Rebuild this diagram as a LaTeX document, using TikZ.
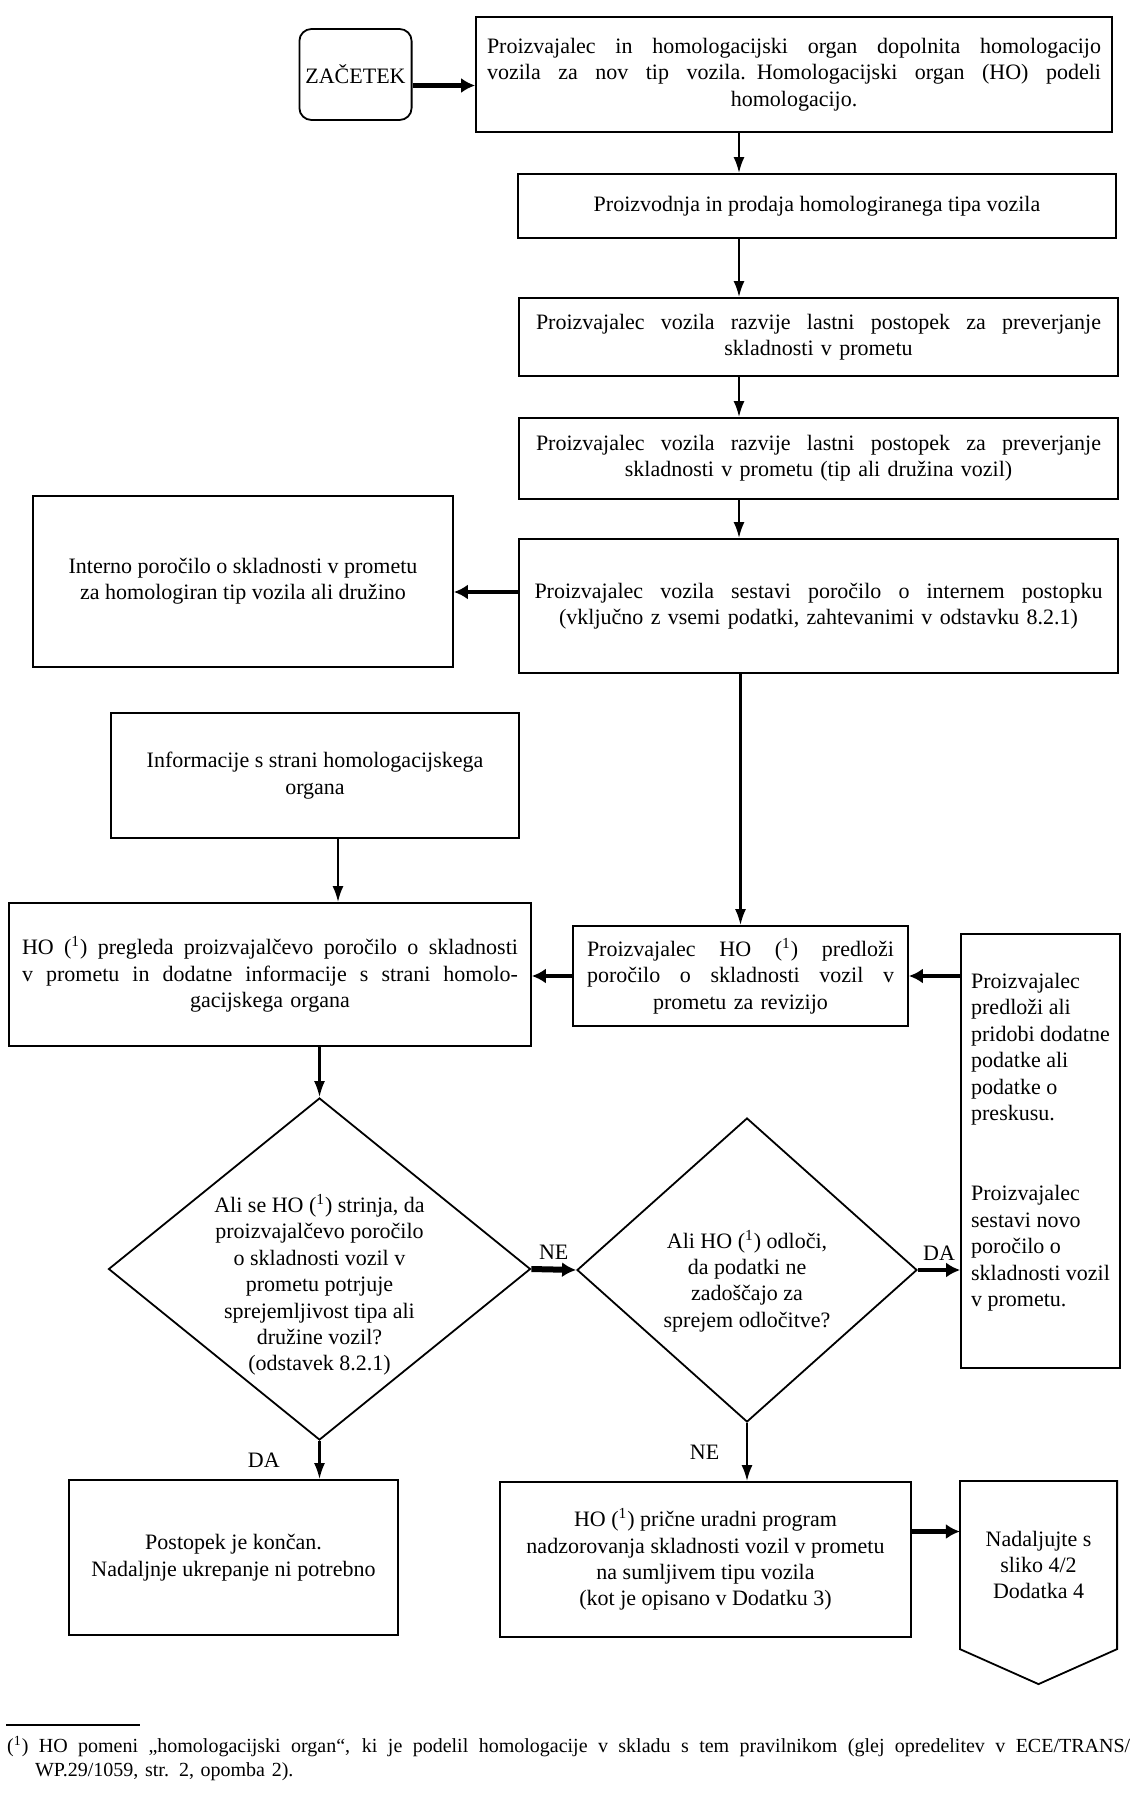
\documentclass[tikz,border=0pt]{standalone}
\usepackage{fontspec}
\setmainfont{Liberation Serif}
\usetikzlibrary{arrows.meta,shapes.geometric}
\newcommand{\jline}[1]{\leavevmode\hbox to \linewidth{\spaceskip=0.25em plus 1fil\relax #1}}
\newcommand{\fn}{(\textsuperscript{1})}

\begin{document}
\begin{tikzpicture}[x=0.5pt,y=-0.5pt,>={Latex[length=8pt,width=5.5pt]},line width=1.1pt,
        font=\fontsize{11}{13.2}\selectfont,
        box/.style={draw,line width=0.9pt,align=center,inner sep=3pt},
        fat/.style={line width=2.4pt,-{Latex[length=7pt,width=7.5pt]}},
        decision/.style={draw,diamond,line width=0.9pt,inner sep=0pt}]
        \useasboundingbox (0,0) rectangle (1135,1797);
        \coordinate (spine) at (739,0);
        % main column
        \node (start) [box, rounded corners=6pt, minimum width=54.5pt, minimum height=45.5pt] at (355.5,74.5) {ZAČETEK};
        \node (b1) [box, text width=307pt, minimum width=318pt, minimum height=57.5pt] at (794,74.5)
            {\jline{Proizvajalec in homologacijski organ dopolnita homologacijo}\\
             \jline{vozila za nov tip vozila. Homologacijski organ (HO) podeli}\\ homologacijo.};
        \node (b2) [box, minimum width=299pt, minimum height=32pt] at (817,206)
            {Proizvodnja in prodaja homologiranega tipa vozila};
        \node (b3) [box, text width=282.5pt, minimum width=299.5pt, minimum height=39pt] at (818.5,337)
            {\jline{Proizvajalec vozila razvije lastni postopek za preverjanje}\\ skladnosti v prometu};
        \node (b4) [box, text width=282.5pt, minimum width=299.5pt, minimum height=40.5pt] at (818.5,458.5)
            {\jline{Proizvajalec vozila razvije lastni postopek za preverjanje}\\ skladnosti v prometu (tip ali družina vozil)};
        \node (b5) [box, text width=284pt, minimum width=299.5pt, minimum height=67pt] at (818.5,606)
            {\jline{Proizvajalec vozila sestavi poročilo o internem postopku}\\
             (vključno z vsemi podatki, zahtevanimi v odstavku 8.2.1)};
        \node (interno) [box, minimum width=210pt, minimum height=85.5pt] at (243,581.5)
            {Interno poročilo o skladnosti v prometu\\ za homologiran tip vozila ali družino};
        \node (info) [box, minimum width=204pt, minimum height=62.5pt] at (315,775.5)
            {Informacije s strani homologacijskega\\ organa};
        \node (review) [box, text width=248pt, minimum width=261pt, minimum height=71.5pt] at (270,974.5)
            {\jline{HO \fn{} pregleda proizvajalčevo poročilo o skladnosti}\\
             \jline{v prometu in dodatne informacije s strani homolo-}\\ gacijskega organa};
        \node (submit) [box, text width=153.5pt, minimum width=167.5pt, minimum height=50pt] at (740.5,976)
            {\jline{Proizvajalec HO \fn{} predloži}\\ \jline{poročilo o skladnosti vozil v}\\ prometu za revizijo};
        \node (extra) [box, align=left, minimum width=79.5pt, minimum height=217pt] at (1040.5,1151)
            {Proizvajalec\\ predloži ali\\ pridobi dodatne\\ podatke ali\\ podatke o\\ preskusu.\\[27pt]
             Proizvajalec\\ sestavi novo\\ poročilo o\\ skladnosti vozil\\ v prometu.\\[-2pt]\mbox{}};
        % decisions
        \node (d1) [decision, minimum width=211pt, minimum height=171pt,
            label={[align=center,yshift=-8pt]center:{Ali se HO \fn{} strinja, da\\ proizvajalčevo poročilo\\
            o skladnosti vozil v\\ prometu potrjuje\\ sprejemljivost tipa ali\\ družine vozil?\\ (odstavek 8.2.1)}}]
            at (319.5,1269) {};
        \node (d2) [decision, minimum width=170pt, minimum height=152pt,
            label={[align=center,yshift=-5.5pt]center:{Ali HO \fn{} odloči,\\ da podatki ne\\ zadoščajo za\\ sprejem odločitve?}}]
            at (747,1270) {};
        % outcomes
        \node (stop) [box, minimum width=164.5pt, minimum height=77.5pt] at (233.5,1557.5)
            {Postopek je končan.\\ Nadaljnje ukrepanje ni potrebno};
        \node (prog) [box, minimum width=205.5pt, minimum height=77.5pt] at (705.5,1559.5)
            {HO \fn{} prične uradni program\\ nadzorovanja skladnosti vozil v prometu\\
             na sumljivem tipu vozila\\ (kot je opisano v Dodatku 3)};
        \node (cont) [align=center, minimum width=77.5pt, minimum height=83pt] at (1038.5,1565)
            {Nadaljujte s\\ sliko 4/2\\ Dodatka 4};
        \draw[line width=0.9pt] (cont.north west) -- (cont.north east) -- (cont.south east)
            -- ([yshift=-17.5pt]cont.south) -- (cont.south west) -- cycle;
        % connectors
        \coordinate (s1) at ([yshift=-5.5pt]start.east);
        \draw[fat] (s1) -- (s1 -| b1.west);
        \draw[->] (b1.south -| spine) -- (b2.north -| spine);
        \draw[->] (b2.south -| spine) -- (b3.north -| spine);
        \draw[->] (b3.south -| spine) -- (b4.north -| spine);
        \draw[->] (b4.south -| spine) -- (b5.north -| spine);
        \coordinate (s2) at ([yshift=7pt]b5.west);
        \draw[fat] (s2) -- (s2 -| interno.east);
        \draw[->] (b5.south -| submit.north) -- (submit.north);
        \coordinate (s3) at (338,0);
        \draw[->] (info.south -| s3) -- (review.north -| s3);
        \draw[fat] (submit.west) -- (submit.west -| review.east);
        \draw[fat] (extra.west |- submit.east) -- (submit.east);
        \draw[->] (review.south -| d1.north) -- (d1.north);
        \draw[fat, line width=3pt] (d1.east) -- node[above]{NE} (d2.west);
        \draw[fat] (d2.east) -- node[above]{DA} (d2.east -| extra.west);
        \draw[->] (d1.south) -- node[left=16pt]{DA} (d1.south |- stop.north);
        \draw[->] (d2.south) -- node[left=10pt]{NE} (d2.south |- prog.north);
        \coordinate (s4) at ([yshift=14pt]prog.east);
        \draw[fat] (s4) -- (s4 -| cont.west);
        % footnote
        \draw[line width=0.6pt] (6,1725) -- (140,1725);
        \node (note) [anchor=north west, inner sep=0pt, text width=561.5pt, align=left,
            font=\fontsize{10}{12}\selectfont] at (6,1735)
            {\jline{\fn{} HO pomeni „homologacijski organ“, ki je podelil homologacije v skladu s tem pravilnikom (glej opredelitev v ECE/TRANS/}\\
             \hspace*{14pt}WP.29/1059, str. 2, opomba 2).};
    \end{tikzpicture}
\end{document}
